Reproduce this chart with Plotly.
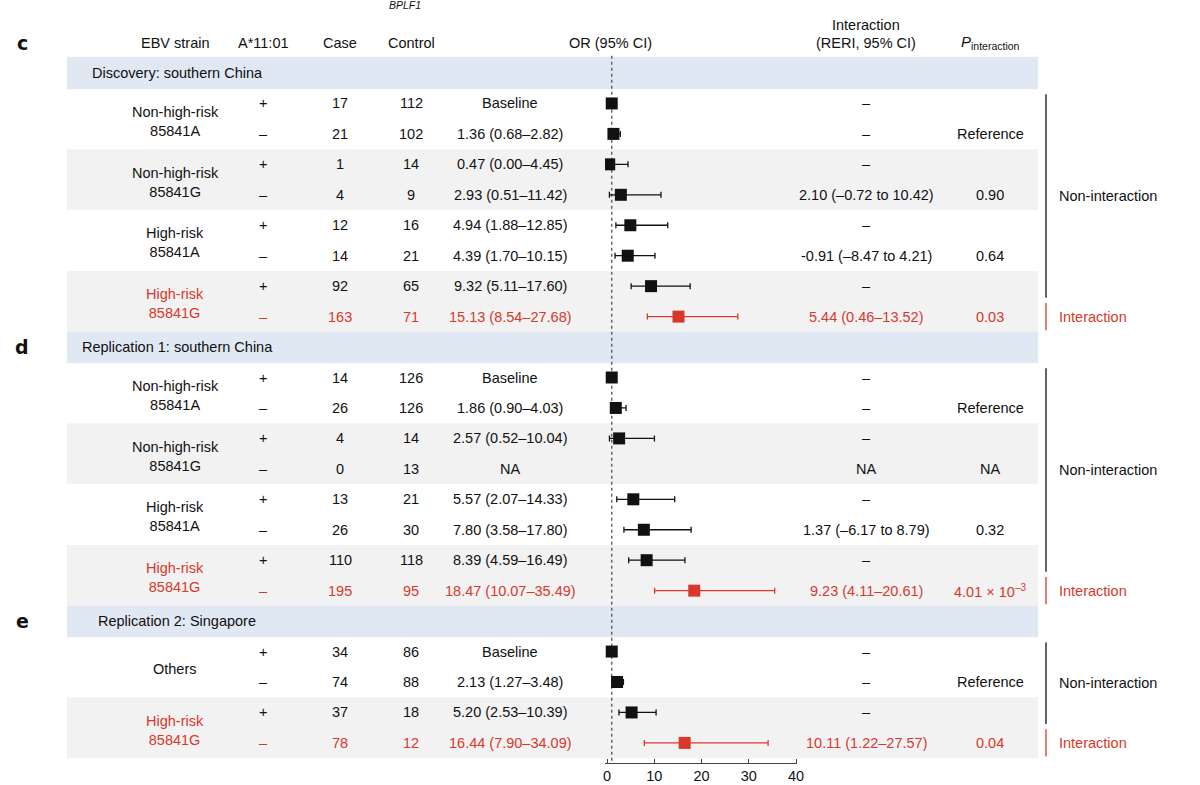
import plotly.graph_objects as go

# --- Data ---
sections = ["Discovery: southern China", "Replication 1: southern China", "Replication 2: Singapore"]
section_letters = ["c", "d", "e"]
section_sizes = [8, 8, 4]

strain_labels = [
    "Non-high-risk<br>85841A", "Non-high-risk<br>85841G", "High-risk<br>85841A", "High-risk<br>85841G",
    "Non-high-risk<br>85841A", "Non-high-risk<br>85841G", "High-risk<br>85841A", "High-risk<br>85841G",
    "Others", "High-risk<br>85841G",
]
a1101 = ["+", "–"] * 10
cases = [17, 21, 1, 4, 12, 14, 92, 163,
         14, 26, 4, 0, 13, 26, 110, 195,
         34, 74, 37, 78]
controls = [112, 102, 14, 9, 16, 21, 65, 71,
            126, 126, 14, 13, 21, 30, 118, 95,
            86, 88, 18, 12]
or_est = [1, 1.36, 0.47, 2.93, 4.94, 4.39, 9.32, 15.13,
          1, 1.86, 2.57, None, 5.57, 7.80, 8.39, 18.47,
          1, 2.13, 5.20, 16.44]
or_lo = [None, 0.68, 0.00, 0.51, 1.88, 1.70, 5.11, 8.54,
         None, 0.90, 0.52, None, 2.07, 3.58, 4.59, 10.07,
         None, 1.27, 2.53, 7.90]
or_hi = [None, 2.82, 4.45, 11.42, 12.85, 10.15, 17.60, 27.68,
         None, 4.03, 10.04, None, 14.33, 17.80, 16.49, 35.49,
         None, 3.48, 10.39, 34.09]
reri = ["–", "–", "–", "2.10 (–0.72 to 10.42)", "–", "-0.91 (–8.47 to 4.21)", "–", "5.44 (0.46–13.52)",
        "–", "–", "–", "NA", "–", "1.37 (–6.17 to 8.79)", "–", "9.23 (4.11–20.61)",
        "–", "–", "–", "10.11 (1.22–27.57)"]
p_int = ["", "Reference", "", "0.90", "", "0.64", "", "0.03",
         "", "Reference", "", "NA", "", "0.32", "", "4.01 × 10<sup>–3</sup>",
         "", "Reference", "", "0.04"]
or_ticks = [0, 10, 20, 30, 40]

# --- Styles / geometry ---
RED = '#d8382c'
BLACK = '#111111'
BLUE_BAND = '#dfe8f3'
GRAY_BAND = '#f2f2f2'
FONT = 'Liberation Sans, Arial, sans-serif'
FS = 14.5

W, H = 1200, 785
ROW_PX = 30.45      # vertical spacing of table rows
TOP_PX = 73         # centre of first section header
AXIS_PX = 763       # OR axis line
BAND_X0, BAND_X1 = 67, 1038


def px(x):
    return x / W


# slot positions (row units) of section headers and data rows
header_slots, row_slots = [], []
s = 0
for n in section_sizes:
    header_slots.append(s)
    row_slots.extend(range(s + 1, s + 1 + n))
    s += n + 1

highlight = []
idx = 0
for n in section_sizes:
    idx += n
    highlight.append(idx - 1)


def or_label(i):
    if or_est[i] is None:
        return "NA"
    if or_lo[i] is None:
        return "Baseline"
    return f"{or_est[i]:.2f} ({or_lo[i]:.2f}–{or_hi[i]:.2f})"


annotations = []


def txt(x, y, text, color=BLACK, size=FS, anchor='center', family=FONT):
    annotations.append(dict(
        x=px(x), y=y, xref='paper', yref='y', text=text, showarrow=False,
        xanchor=anchor, yanchor='middle', font=dict(family=family, size=size, color=color)
    ))


shapes = []

# --- Background bands ---
for hs in header_slots:
    shapes.append(dict(type='rect', xref='paper', yref='y', x0=px(BAND_X0), x1=px(BAND_X1),
                       y0=hs - 0.53, y1=hs + 0.53, fillcolor=BLUE_BAND, line_width=0, layer='below'))
for p in range(len(strain_labels)):
    if p % 2 == 1:
        r0 = row_slots[2 * p]
        shapes.append(dict(type='rect', xref='paper', yref='y', x0=px(BAND_X0), x1=px(BAND_X1),
                           y0=r0 - 0.5, y1=r0 + 1.5, fillcolor=GRAY_BAND, line_width=0, layer='below'))

# dashed reference line at OR = 1
shapes.append(dict(type='line', xref='x', yref='y', x0=1, x1=1, y0=header_slots[0] - 0.57,
                   y1=(AXIS_PX - TOP_PX) / ROW_PX, line=dict(color='#666666', width=1.5, dash='dot'),
                   layer='below'))

# --- Column headers ---
hdr = -1.0
LETTER_FONT = 'DejaVu Sans'
txt(22, hdr, "<b>c</b>", size=19, family=LETTER_FONT)
txt(175, hdr, "EBV strain")
txt(263, hdr, "A*11:01")
txt(340, hdr, "Case")
txt(411, hdr, "Control")
txt(610, hdr, "OR (95% CI)")
txt(866, -1.57, "Interaction")
txt(866, hdr, "(RERI, 95% CI)")
txt(990, hdr, "<i>P</i><sub>interaction</sub>", size=15)
txt(405, -2.24, "<i>BPLF1</i>", size=10.5)

# --- Section headers ---
for k, hs in enumerate(header_slots):
    txt(177, hs, sections[k])
    if k > 0:
        txt(22, hs, f"<b>{section_letters[k]}</b>", size=19, family=LETTER_FONT)

# --- Table rows ---
for i, sl in enumerate(row_slots):
    col = RED if i in highlight else BLACK
    txt(263, sl, a1101[i], color=col)
    txt(340, sl, str(cases[i]), color=col)
    txt(411, sl, str(controls[i]), color=col)
    txt(510, sl, or_label(i), color=col)
    txt(866, sl, reri[i], color=col)
    if p_int[i]:
        txt(990, sl, p_int[i], color=col)

for p, lab in enumerate(strain_labels):
    sl = (row_slots[2 * p] + row_slots[2 * p + 1]) / 2
    col = RED if (2 * p + 1) in highlight else BLACK
    txt(175, sl + 0.08, lab, color=col)

# --- Right-hand interaction brackets ---
start = 0
for k, n in enumerate(section_sizes):
    first, last = row_slots[start], row_slots[start + n - 1]
    b0, b1 = first - 0.3, last - 1 + 0.38
    shapes.append(dict(type='line', xref='paper', yref='y', x0=px(1046), x1=px(1046), y0=b0, y1=b1,
                       line=dict(color=BLACK, width=1.3)))
    shapes.append(dict(type='line', xref='paper', yref='y', x0=px(1046), x1=px(1046),
                       y0=last - 0.45, y1=last + 0.45, line=dict(color=RED, width=1.3)))
    txt(1057, (b0 + b1) / 2, "Non-interaction", anchor='left')
    txt(1057, last, "Interaction", color=RED, anchor='left')
    start += n

# --- Forest plot ---
fig = go.Figure()


def forest_trace(rows, color):
    rows = [i for i in rows if or_est[i] is not None]
    plus = [(or_hi[i] - or_est[i]) if or_hi[i] is not None else 0 for i in rows]
    minus = [(or_est[i] - or_lo[i]) if or_lo[i] is not None else 0 for i in rows]
    return go.Scatter(
        x=[or_est[i] for i in rows], y=[row_slots[i] for i in rows], mode='markers',
        marker=dict(symbol='square', size=12, color=color, line_width=0),
        error_x=dict(type='data', symmetric=False, array=plus, arrayminus=minus,
                     color=color, thickness=1.3, width=3),
        hoverinfo='skip', showlegend=False
    )


fig.add_trace(forest_trace([i for i in range(len(cases)) if i not in highlight], BLACK))
fig.add_trace(forest_trace(highlight, RED))

x0_px, x1_px = 605, 797
zero_px, forty_px = 607, 796
scale = (forty_px - zero_px) / 40.0

fig.update_layout(
    width=W, height=H,
    margin=dict(l=0, r=0, t=0, b=0),
    paper_bgcolor='white', plot_bgcolor='rgba(0,0,0,0)',
    xaxis=dict(domain=[px(x0_px), px(x1_px)],
               range=[(x0_px - zero_px) / scale, (x1_px - zero_px) / scale],
               tickvals=or_ticks, ticks='inside', ticklen=4, tickcolor='#444444', tickwidth=1,
               showline=True, linecolor='#444444', linewidth=1, showgrid=False, zeroline=False,
               tickfont=dict(family=FONT, size=14.5, color=BLACK), automargin=False),
    yaxis=dict(domain=[1 - AXIS_PX / H, 1],
               range=[(AXIS_PX - TOP_PX) / ROW_PX, -TOP_PX / ROW_PX],
               visible=False, automargin=False),
    shapes=shapes, annotations=annotations,
)

# the page body has a default 8px margin; drop it so the figure fills the window
fig.write_html("out.html", config={'displayModeBar': False},
               post_script="document.body.style.margin = '0px';")
